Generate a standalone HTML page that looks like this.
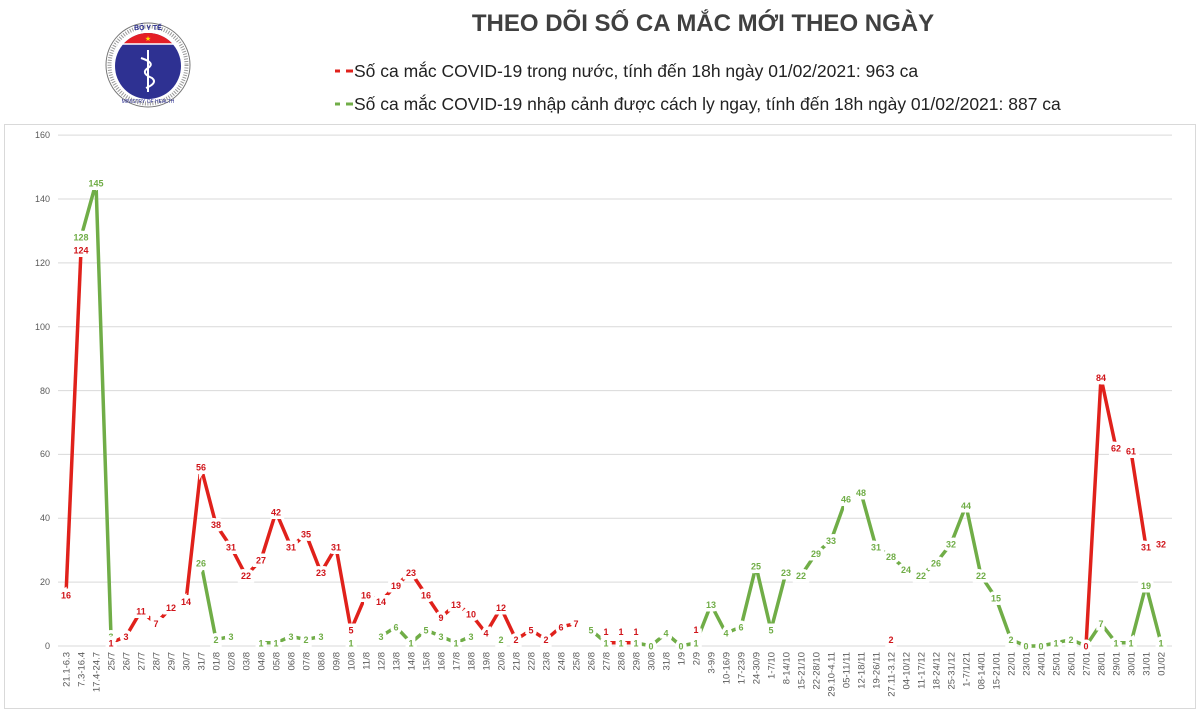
<!DOCTYPE html>
<html><head><meta charset="utf-8"><style>
html,body{margin:0;padding:0;background:#fff;width:1200px;height:713px;overflow:hidden}
svg{display:block;font-family:"Liberation Sans",Arial,sans-serif}
</style></head><body>
<svg width="1200" height="713" viewBox="0 0 1200 713">
<defs><clipPath id="cc"><circle cx="148" cy="66" r="33"/></clipPath></defs>
<rect x="0" y="0" width="1200" height="713" fill="#fff"/>
<rect x="4.5" y="124.5" width="1191" height="584" fill="none" stroke="#d9d9d9"/>
<!-- logo -->
<g>
<circle cx="148" cy="65" r="42" fill="#fff" stroke="#777" stroke-width="1"/>
<circle cx="148" cy="65" r="38.5" fill="none" stroke="#999" stroke-width="4" stroke-dasharray="1 1.5"/>
<circle cx="148" cy="66" r="33" fill="#2e3192"/>
<rect x="110" y="30" width="80" height="14" fill="#e41e26" clip-path="url(#cc)"/>
<line x1="116" y1="44" x2="180" y2="44" stroke="#fff" stroke-width="1.5"/>
<text x="148" y="41" font-size="7" fill="#ffde00" text-anchor="middle">★</text>
<line x1="148" y1="50" x2="148" y2="92" stroke="#fff" stroke-width="2"/>
<path d="M141 58 Q156 63 148 68 Q140 73 152 78 Q158 83 146 88" fill="none" stroke="#fff" stroke-width="2"/>
<text x="148" y="30" font-size="7" fill="#2e3192" text-anchor="middle" font-weight="bold">BỘ Y TẾ</text>
<text x="148" y="103" font-size="5" fill="#2e3192" text-anchor="middle">MINISTRY OF HEALTH</text>
</g>
<text x="703" y="31" font-size="24" font-weight="bold" fill="#404040" text-anchor="middle">THEO DÕI SỐ CA MẮC MỚI THEO NGÀY</text>
<g font-size="17.5" fill="#222">
<line x1="335" y1="71" x2="340" y2="71" stroke="#e0211b" stroke-width="3"/>
<line x1="346" y1="71" x2="353" y2="71" stroke="#e0211b" stroke-width="3"/>
<text x="354" y="77">Số ca mắc COVID-19 trong nước, tính đến 18h ngày 01/02/2021: 963 ca</text>
<line x1="335" y1="104" x2="340" y2="104" stroke="#70ad47" stroke-width="3"/>
<line x1="346" y1="104" x2="353" y2="104" stroke="#70ad47" stroke-width="3"/>
<text x="354" y="110">Số ca mắc COVID-19 nhập cảnh được cách ly ngay, tính đến 18h ngày 01/02/2021: 887 ca</text>
</g>
<!-- grid -->
<g stroke="#d9d9d9" stroke-width="1">
<line x1="58" y1="646" x2="1172" y2="646"/>
<line x1="58" y1="582.1" x2="1172" y2="582.1"/>
<line x1="58" y1="518.3" x2="1172" y2="518.3"/>
<line x1="58" y1="454.4" x2="1172" y2="454.4"/>
<line x1="58" y1="390.6" x2="1172" y2="390.6"/>
<line x1="58" y1="326.7" x2="1172" y2="326.7"/>
<line x1="58" y1="262.9" x2="1172" y2="262.9"/>
<line x1="58" y1="199" x2="1172" y2="199"/>
<line x1="58" y1="135.1" x2="1172" y2="135.1"/>
</g>
<g font-size="9" fill="#595959" text-anchor="end">
<text x="50" y="649">0</text><text x="50" y="585">20</text><text x="50" y="521">40</text><text x="50" y="457">60</text><text x="50" y="394">80</text><text x="50" y="330">100</text><text x="50" y="266">120</text><text x="50" y="202">140</text><text x="50" y="138">160</text>
</g>
<!-- series lines -->
<g fill="none" stroke-width="3.5" stroke-linejoin="round">
<polyline stroke="#70ad47" points="81,237.2 96,182.9 111,636.4"/>
<polyline stroke="#70ad47" points="201,562.9 216,639.6 231,636.4"/>
<polyline stroke="#70ad47" points="261,642.8 276,642.8 291,636.4 306,639.6 321,636.4"/>
<polyline stroke="#70ad47" points="381,636.4 396,626.8 411,642.8 426,630 441,636.4 456,642.8 471,636.4"/>
<polyline stroke="#70ad47" points="591,630 606,642.8 621,642.8 636,642.8 651,646 666,633.2 681,646 696,642.8 711,604.5 726,633.2 741,626.8 756,566.2 771,630 786,572.5 801,575.7 816,553.4 831,540.6 846,499.1 861,492.7 876,547 891,556.6 906,569.3 921,575.7 936,562.9 951,543.8 966,505.5 981,575.7 996,598.1 1011,639.6 1026,646 1041,646 1056,642.8 1071,639.6 1086,646 1101,623.6 1116,642.8 1131,642.8 1146,585.3 1161,642.8"/>
<polyline stroke="#e0211b" points="66,594.9 81,250"/>
<polyline stroke="#e0211b" points="111,642.8 126,636.4 141,610.9 156,623.6 171,607.7 186,601.3 201,467.1 216,524.6 231,547 246,575.7 261,559.8 276,511.9 291,547 306,534.2 321,572.5 336,547 351,630 366,594.9 381,601.3 396,585.3 411,572.5 426,594.9 441,617.3 456,604.5 471,614.1 486,633.2 501,607.7 516,639.6 531,630 546,639.6 561,626.8 576,623.6"/>
<polyline stroke="#e0211b" points="606,642.8 621,642.8 636,642.8"/>
<polyline stroke="#e0211b" points="1086,646 1101,377.7 1116,448 1131,451.2 1146,547 1161,543.8"/>
</g>
<!-- labels -->
<g font-size="9" font-weight="bold" text-anchor="middle" stroke="#fff" stroke-width="7" paint-order="stroke" fill="#70ad47">
<text x="81" y="240.7">128</text><text x="96" y="186.4">145</text><text x="111" y="639.9">3</text><text x="201" y="566.4">26</text><text x="216" y="643.1">2</text><text x="231" y="639.9">3</text><text x="261" y="646.3">1</text><text x="276" y="646.3">1</text><text x="291" y="639.9">3</text><text x="306" y="643.1">2</text><text x="321" y="639.9">3</text><text x="351" y="646.3">1</text><text x="381" y="639.9">3</text><text x="396" y="630.3">6</text><text x="411" y="646.3">1</text><text x="426" y="633.5">5</text><text x="441" y="639.9">3</text><text x="456" y="646.3">1</text><text x="471" y="639.9">3</text><text x="501" y="643.1">2</text><text x="591" y="633.5">5</text><text x="606" y="646.3">1</text><text x="621" y="646.3">1</text><text x="636" y="646.3">1</text><text x="651" y="649.5">0</text><text x="666" y="636.7">4</text><text x="681" y="649.5">0</text><text x="696" y="646.3">1</text><text x="711" y="608">13</text><text x="726" y="636.7">4</text><text x="741" y="630.3">6</text><text x="756" y="569.7">25</text><text x="771" y="633.5">5</text><text x="786" y="576">23</text><text x="801" y="579.2">22</text><text x="816" y="556.9">29</text><text x="831" y="544.1">33</text><text x="846" y="502.6">46</text><text x="861" y="496.2">48</text><text x="876" y="550.5">31</text><text x="891" y="560.1">28</text><text x="906" y="572.8">24</text><text x="921" y="579.2">22</text><text x="936" y="566.4">26</text><text x="951" y="547.3">32</text><text x="966" y="509">44</text><text x="981" y="579.2">22</text><text x="996" y="601.6">15</text><text x="1011" y="643.1">2</text><text x="1026" y="649.5">0</text><text x="1041" y="649.5">0</text><text x="1056" y="646.3">1</text><text x="1071" y="643.1">2</text><text x="1101" y="627.1">7</text><text x="1116" y="646.3">1</text><text x="1131" y="646.3">1</text><text x="1146" y="588.8">19</text><text x="1161" y="646.3">1</text>
</g>
<g font-size="9" font-weight="bold" text-anchor="middle" stroke="#fff" stroke-width="7" paint-order="stroke" fill="#d0141a">
<text x="66" y="598.4">16</text><text x="81" y="253.5">124</text><text x="111" y="646.3">1</text><text x="126" y="639.9">3</text><text x="141" y="614.4">11</text><text x="156" y="627.1">7</text><text x="171" y="611.2">12</text><text x="186" y="604.8">14</text><text x="201" y="470.6">56</text><text x="216" y="528.1">38</text><text x="231" y="550.5">31</text><text x="246" y="579.2">22</text><text x="261" y="563.3">27</text><text x="276" y="515.4">42</text><text x="291" y="550.5">31</text><text x="306" y="537.7">35</text><text x="321" y="576">23</text><text x="336" y="550.5">31</text><text x="351" y="633.5">5</text><text x="366" y="598.4">16</text><text x="381" y="604.8">14</text><text x="396" y="588.8">19</text><text x="411" y="576">23</text><text x="426" y="598.4">16</text><text x="441" y="620.8">9</text><text x="456" y="608">13</text><text x="471" y="617.6">10</text><text x="486" y="636.7">4</text><text x="501" y="611.2">12</text><text x="516" y="643.1">2</text><text x="531" y="633.5">5</text><text x="546" y="643.1">2</text><text x="561" y="630.3">6</text><text x="576" y="627.1">7</text><text x="606" y="635">1</text><text x="621" y="635">1</text><text x="636" y="635">1</text><text x="696" y="633">1</text><text x="891" y="643.1">2</text><text x="1086" y="649.5">0</text><text x="1101" y="381.2">84</text><text x="1116" y="451.5">62</text><text x="1131" y="454.7">61</text><text x="1146" y="550.5">31</text><text x="1161" y="547.3">32</text>
</g>
<!-- x labels -->
<g font-size="9.5" fill="#595959" text-anchor="end">
<text transform="translate(69.5,652) rotate(-90)">21.1-6.3</text>
<text transform="translate(84.5,652) rotate(-90)">7.3-16.4</text>
<text transform="translate(99.5,652) rotate(-90)">17.4-24.7</text>
<text transform="translate(114.5,652) rotate(-90)">25/7</text>
<text transform="translate(129.5,652) rotate(-90)">26/7</text>
<text transform="translate(144.5,652) rotate(-90)">27/7</text>
<text transform="translate(159.5,652) rotate(-90)">28/7</text>
<text transform="translate(174.5,652) rotate(-90)">29/7</text>
<text transform="translate(189.5,652) rotate(-90)">30/7</text>
<text transform="translate(204.5,652) rotate(-90)">31/7</text>
<text transform="translate(219.5,652) rotate(-90)">01/8</text>
<text transform="translate(234.5,652) rotate(-90)">02/8</text>
<text transform="translate(249.5,652) rotate(-90)">03/8</text>
<text transform="translate(264.5,652) rotate(-90)">04/8</text>
<text transform="translate(279.5,652) rotate(-90)">05/8</text>
<text transform="translate(294.5,652) rotate(-90)">06/8</text>
<text transform="translate(309.5,652) rotate(-90)">07/8</text>
<text transform="translate(324.5,652) rotate(-90)">08/8</text>
<text transform="translate(339.5,652) rotate(-90)">09/8</text>
<text transform="translate(354.5,652) rotate(-90)">10/8</text>
<text transform="translate(369.5,652) rotate(-90)">11/8</text>
<text transform="translate(384.5,652) rotate(-90)">12/8</text>
<text transform="translate(399.5,652) rotate(-90)">13/8</text>
<text transform="translate(414.5,652) rotate(-90)">14/8</text>
<text transform="translate(429.5,652) rotate(-90)">15/8</text>
<text transform="translate(444.5,652) rotate(-90)">16/8</text>
<text transform="translate(459.5,652) rotate(-90)">17/8</text>
<text transform="translate(474.5,652) rotate(-90)">18/8</text>
<text transform="translate(489.5,652) rotate(-90)">19/8</text>
<text transform="translate(504.5,652) rotate(-90)">20/8</text>
<text transform="translate(519.5,652) rotate(-90)">21/8</text>
<text transform="translate(534.5,652) rotate(-90)">22/8</text>
<text transform="translate(549.5,652) rotate(-90)">23/8</text>
<text transform="translate(564.5,652) rotate(-90)">24/8</text>
<text transform="translate(579.5,652) rotate(-90)">25/8</text>
<text transform="translate(594.5,652) rotate(-90)">26/8</text>
<text transform="translate(609.5,652) rotate(-90)">27/8</text>
<text transform="translate(624.5,652) rotate(-90)">28/8</text>
<text transform="translate(639.5,652) rotate(-90)">29/8</text>
<text transform="translate(654.5,652) rotate(-90)">30/8</text>
<text transform="translate(669.5,652) rotate(-90)">31/8</text>
<text transform="translate(684.5,652) rotate(-90)">1/9</text>
<text transform="translate(699.5,652) rotate(-90)">2/9</text>
<text transform="translate(714.5,652) rotate(-90)">3-9/9</text>
<text transform="translate(729.5,652) rotate(-90)">10-16/9</text>
<text transform="translate(744.5,652) rotate(-90)">17-23/9</text>
<text transform="translate(759.5,652) rotate(-90)">24-30/9</text>
<text transform="translate(774.5,652) rotate(-90)">1-7/10</text>
<text transform="translate(789.5,652) rotate(-90)">8-14/10</text>
<text transform="translate(804.5,652) rotate(-90)">15-21/10</text>
<text transform="translate(819.5,652) rotate(-90)">22-28/10</text>
<text transform="translate(834.5,652) rotate(-90)">29.10-4.11</text>
<text transform="translate(849.5,652) rotate(-90)">05-11/11</text>
<text transform="translate(864.5,652) rotate(-90)">12-18/11</text>
<text transform="translate(879.5,652) rotate(-90)">19-26/11</text>
<text transform="translate(894.5,652) rotate(-90)">27.11-3.12</text>
<text transform="translate(909.5,652) rotate(-90)">04-10/12</text>
<text transform="translate(924.5,652) rotate(-90)">11-17/12</text>
<text transform="translate(939.5,652) rotate(-90)">18-24/12</text>
<text transform="translate(954.5,652) rotate(-90)">25-31/12</text>
<text transform="translate(969.5,652) rotate(-90)">1-7/1/21</text>
<text transform="translate(984.5,652) rotate(-90)">08-14/01</text>
<text transform="translate(999.5,652) rotate(-90)">15-21/01</text>
<text transform="translate(1014.5,652) rotate(-90)">22/01</text>
<text transform="translate(1029.5,652) rotate(-90)">23/01</text>
<text transform="translate(1044.5,652) rotate(-90)">24/01</text>
<text transform="translate(1059.5,652) rotate(-90)">25/01</text>
<text transform="translate(1074.5,652) rotate(-90)">26/01</text>
<text transform="translate(1089.5,652) rotate(-90)">27/01</text>
<text transform="translate(1104.5,652) rotate(-90)">28/01</text>
<text transform="translate(1119.5,652) rotate(-90)">29/01</text>
<text transform="translate(1134.5,652) rotate(-90)">30/01</text>
<text transform="translate(1149.5,652) rotate(-90)">31/01</text>
<text transform="translate(1164.5,652) rotate(-90)">01/02</text>
</g>
</svg>
</body></html>
